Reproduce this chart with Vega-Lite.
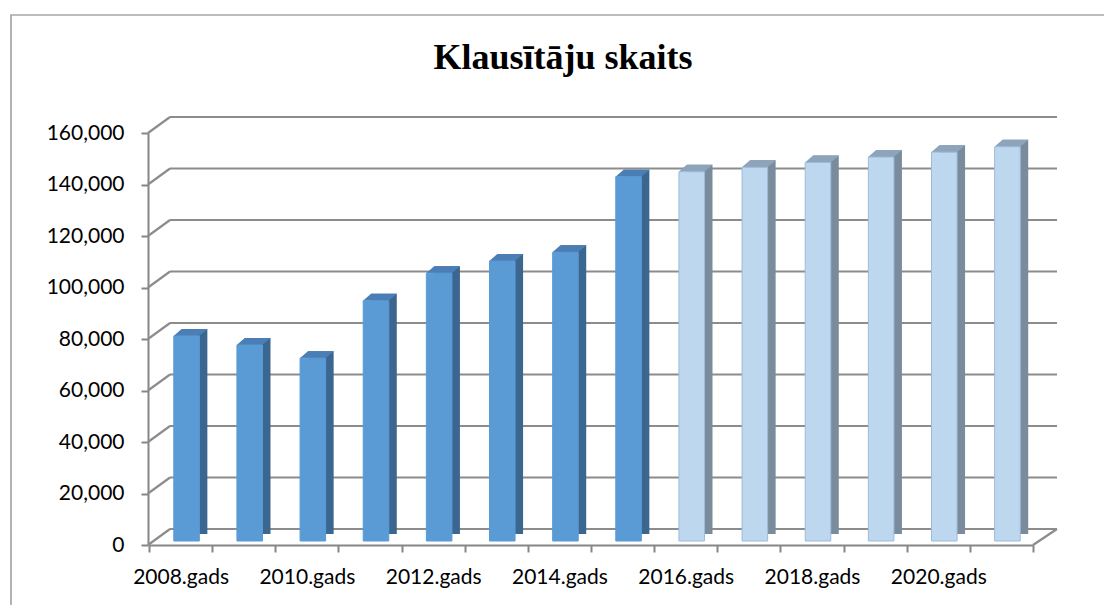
{
  "$schema": "https://vega.github.io/schema/vega-lite/v6.json",
  "width": 1100,
  "height": 600,
  "autosize": {"type": "none"},
  "padding": {"left": 11, "top": 15, "right": -7, "bottom": -10},
  "background": "white",
  "config": {"view": {"stroke": "#a6a6a6", "strokeWidth": 1.7}, "font": "Lato"},
  "title": {"text": "Klausītāju skaits", "font": "Liberation Serif", "fontSize": 36, "fontWeight": "bold", "color": "#000000", "frame": "group", "anchor": "middle", "offset": -62, "dx": 2},
  "datasets": {
    "gadi": [
      {"gads": "2008.gads", "v": 79600, "tips": "fakts"},
      {"gads": "2009.gads", "v": 76100, "tips": "fakts"},
      {"gads": "2010.gads", "v": 71000, "tips": "fakts"},
      {"gads": "2011.gads", "v": 93300, "tips": "fakts"},
      {"gads": "2012.gads", "v": 104000, "tips": "fakts"},
      {"gads": "2013.gads", "v": 108700, "tips": "fakts"},
      {"gads": "2014.gads", "v": 112100, "tips": "fakts"},
      {"gads": "2015.gads", "v": 141500, "tips": "fakts"},
      {"gads": "2016.gads", "v": 143400, "tips": "prognoze"},
      {"gads": "2017.gads", "v": 145100, "tips": "prognoze"},
      {"gads": "2018.gads", "v": 147000, "tips": "prognoze"},
      {"gads": "2019.gads", "v": 149100, "tips": "prognoze"},
      {"gads": "2020.gads", "v": 151000, "tips": "prognoze"},
      {"gads": "2021.gads", "v": 153100, "tips": "prognoze"}
    ],
    "rezgis": [
      {"v": 0}, {"v": 20000}, {"v": 40000}, {"v": 60000}, {"v": 80000},
      {"v": 100000}, {"v": 120000}, {"v": 140000}, {"v": 160000}
    ]
  },
  "resolve": {
    "scale": {"x": "independent", "color": "independent", "stroke": "independent"},
    "axis": {"x": "independent", "y": "independent"},
    "legend": {"color": "independent", "stroke": "independent"}
  },
  "layer": [
    {
      "data": {"name": "rezgis"},
      "mark": {"type": "rule", "color": "#8c8c8c", "strokeWidth": 2.2, "yOffset": -16},
      "encoding": {
        "x": {"datum": 0, "type": "quantitative", "scale": {"domain": [0, 1], "range": [159, 1046]}, "axis": null},
        "x2": {"datum": 1},
        "y": {"field": "v", "type": "quantitative", "scale": {"domain": [0, 160000], "range": [530, 118], "nice": false}, "axis": null}
      }
    },
    {
      "data": {"name": "rezgis"},
      "mark": {"type": "rule", "color": "#8c8c8c", "strokeWidth": 2.2, "y2Offset": -16},
      "encoding": {
        "x": {"datum": 0, "type": "quantitative", "scale": {"domain": [0, 1], "range": [137, 159]}, "axis": null},
        "x2": {"datum": 1},
        "y": {"field": "v", "type": "quantitative", "axis": null},
        "y2": {"field": "v"}
      }
    },
    {
      "data": {"values": [{"v": 0}]},
      "mark": {"type": "rule", "color": "#8c8c8c", "strokeWidth": 2.2, "y2Offset": -16},
      "encoding": {
        "x": {"datum": 0, "type": "quantitative", "scale": {"domain": [0, 1], "range": [1022, 1046]}, "axis": null},
        "x2": {"datum": 1},
        "y": {"field": "v", "type": "quantitative", "axis": null},
        "y2": {"field": "v"}
      }
    },
    {
      "data": {"name": "gadi"},
      "mark": {"type": "bar", "width": {"band": 0.405}, "xOffset": 14, "x2Offset": 14, "yOffset": -11, "y2Offset": -11},
      "encoding": {
        "x": {"field": "gads", "type": "nominal", "sort": null, "scale": {"type": "band", "range": [138, 1022], "paddingInner": 0, "paddingOuter": 0}, "axis": null},
        "y": {"field": "v", "type": "quantitative", "axis": null},
        "color": {"field": "tips", "type": "nominal", "scale": {"domain": ["fakts", "prognoze"], "range": ["#3b6690", "#7a8b9c"]}, "legend": null}
      }
    },
    {
      "data": {"name": "gadi"},
      "mark": {"type": "point", "shape": "M-1,0.206L0.506,0.206L1,-0.206L-0.53,-0.206Z", "size": 1156, "filled": true, "opacity": 1, "strokeWidth": 0, "xOffset": 10, "yOffset": -7.5},
      "encoding": {
        "x": {"field": "gads", "type": "nominal", "sort": null, "scale": {"type": "band", "range": [138, 1022], "paddingInner": 0, "paddingOuter": 0}, "axis": null},
        "y": {"field": "v", "type": "quantitative", "axis": null},
        "color": {"field": "tips", "type": "nominal", "scale": {"domain": ["fakts", "prognoze"], "range": ["#4a7eb4", "#8da4bb"]}, "legend": null}
      }
    },
    {
      "data": {"name": "gadi"},
      "mark": {"type": "bar", "width": {"band": 0.405}, "xOffset": 6, "x2Offset": 6, "yOffset": -4, "y2Offset": -4, "strokeWidth": 1},
      "encoding": {
        "x": {
          "field": "gads", "type": "nominal", "sort": null,
          "scale": {"type": "band", "range": [138, 1022], "paddingInner": 0, "paddingOuter": 0},
          "axis": {
            "orient": "bottom", "offset": -70, "title": null, "grid": false,
            "domainColor": "#868686", "domainWidth": 2,
            "tickColor": "#868686", "tickWidth": 2, "tickSize": 7, "tickBand": "extent",
            "labelFont": "Lato", "labelFontSize": 21, "labelColor": "#000000", "labelPadding": 14,
            "labelAngle": 0, "labelOverlap": false,
            "labelExpr": "toNumber(slice(datum.label, 0, 4)) % 2 === 0 ? datum.label : ''"
          }
        },
        "y": {
          "field": "v", "type": "quantitative",
          "axis": {
            "orient": "left", "offset": -137, "title": null, "grid": false,
            "values": [0, 20000, 40000, 60000, 80000, 100000, 120000, 140000, 160000],
            "format": ",.0f",
            "domainColor": "#868686", "domainWidth": 2,
            "tickColor": "#868686", "tickWidth": 2, "tickSize": 7,
            "labelFont": "Lato", "labelFontSize": 21, "labelColor": "#000000", "labelPadding": 17
          }
        },
        "color": {"field": "tips", "type": "nominal", "scale": {"domain": ["fakts", "prognoze"], "range": ["#5b9bd5", "#bdd7ee"]}, "legend": null},
        "stroke": {"field": "tips", "type": "nominal", "scale": {"domain": ["fakts", "prognoze"], "range": ["#5b9bd5", "#9dbbdc"]}, "legend": null}
      }
    }
  ]
}
